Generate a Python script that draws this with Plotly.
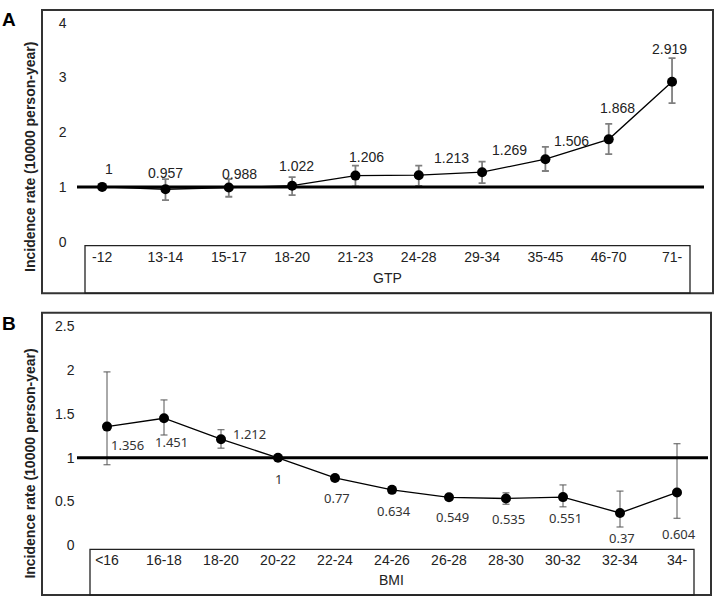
import numpy as np
import plotly.graph_objects as go

# ---- data ----
gtp_groups = ['-12', '13-14', '15-17', '18-20', '21-23', '24-28', '29-34', '35-45', '46-70', '71-']
gtp_rate = [1, 0.957, 0.988, 1.022, 1.206, 1.213, 1.269, 1.506, 1.868, 2.919]
gtp_ci_high = [None, 1.14, 1.14, 1.18, 1.39, 1.39, 1.46, 1.73, 2.15, 3.35]
gtp_ci_low = [None, 0.76, 0.82, 0.85, 1.01, 1.02, 1.07, 1.29, 1.60, 2.53]

bmi_groups = ['<16', '16-18', '18-20', '20-22', '22-24', '24-26', '26-28', '28-30', '30-32', '32-34', '34-']
bmi_rate = [1.356, 1.451, 1.212, 1, 0.77, 0.634, 0.549, 0.535, 0.551, 0.37, 0.604]
bmi_ci_high = [1.98, 1.66, 1.32, None, 0.80, 0.67, 0.58, 0.60, 0.69, 0.62, 1.16]
bmi_ci_low = [0.92, 1.26, 1.11, None, 0.74, 0.60, 0.52, 0.47, 0.44, 0.21, 0.31]

gtp_ticks = [0, 1, 2, 3, 4]
bmi_ticks = [0, 0.5, 1, 1.5, 2, 2.5]

W, H = 720, 605
def px(x): return x / W
def py(y): return 1 - y / H


def err(rate, hi, lo):
    plus = [np.nan if h is None else h - r for r, h in zip(rate, hi)]
    minus = [np.nan if l is None else r - l for r, l in zip(rate, lo)]
    return plus, minus


fig = go.Figure()

# panel A
p, m = err(gtp_rate, gtp_ci_high, gtp_ci_low)
fig.add_trace(go.Scatter(
    x=gtp_groups, y=gtp_rate, mode='lines+markers', xaxis='x', yaxis='y',
    line=dict(color='black', width=1.3), marker=dict(color='black', size=10),
    error_y=dict(type='data', array=p, arrayminus=m, color='#7f7f7f', thickness=1.8, width=3.5),
    cliponaxis=False, showlegend=False))

# panel B
p, m = err(bmi_rate, bmi_ci_high, bmi_ci_low)
fig.add_trace(go.Scatter(
    x=bmi_groups, y=bmi_rate, mode='lines+markers', xaxis='x2', yaxis='y2',
    line=dict(color='black', width=1.3), marker=dict(color='black', size=10),
    error_y=dict(type='data', array=p, arrayminus=m, color='#555555', thickness=1, width=3.5),
    cliponaxis=False, showlegend=False))

# value labels (hand placed like the original); x given as category index
a_dx = [7, 0, 11, 4, 11, 33, 27, 26, 9, -3]
a_dy = [18, 16, 14, 20, 19, 17, 22, 18, 31, 33]
for i, (v, dx, dy) in enumerate(zip(gtp_rate, a_dx, a_dy)):
    fig.add_annotation(x=i, y=v, xref='x', yref='y', text=f'{v:g}', showarrow=False,
                       xanchor='center', yanchor='middle',
                       xshift=dx, yshift=dy, font=dict(family='Liberation Sans, Arial', size=14, color='#222'))

b_dx = [20, 7, 28, 0, 2, 2, 3, 2, 2, 2, 2]
b_dy = [-18, -24, 5, -21, -20, -21, -20, -20, -21, -25, -42]
for i, (v, dx, dy) in enumerate(zip(bmi_rate, b_dx, b_dy)):
    fig.add_annotation(x=i, y=v, xref='x2', yref='y2', text=f'{v:g}', showarrow=False,
                       xanchor='center', yanchor='middle',
                       xshift=dx, yshift=dy, font=dict(family='Noto Sans', size=13, color='#333'))

font = dict(family='Liberation Sans, Arial', size=14, color='#222')
ax_common = dict(showgrid=False, zeroline=False, showline=False, ticks='', tickfont=font, fixedrange=True)

fig.update_layout(
    width=W, height=H, margin=dict(l=0, r=0, t=0, b=0),
    paper_bgcolor='white', plot_bgcolor='white',
    xaxis=dict(domain=[px(70.5), px(703.7)], anchor='y', range=[-0.5, 9.5], type='category',
               ticklabelstandoff=5, **ax_common),
    yaxis=dict(domain=[py(240), py(15)], anchor='x', range=[0, 4], tickvals=gtp_ticks,
               ticklabelstandoff=3, **ax_common),
    xaxis2=dict(domain=[px(78.5), px(705.5)], anchor='y2', range=[-0.5, 10.5], type='category',
                ticklabelstandoff=5, **ax_common),
    yaxis2=dict(domain=[py(552), py(327)], anchor='x2', range=[0, 2.5], tickvals=bmi_ticks,
                ticklabelstandoff=3, **ax_common),
)

# reference line at 1, frames, category boxes
shapes = [
    dict(type='line', xref='paper', yref='y', x0=px(77), x1=px(704), y0=1, y1=1, line=dict(color='black', width=3)),
    dict(type='line', xref='paper', yref='y2', x0=px(77), x1=px(708), y0=1, y1=1, line=dict(color='black', width=3)),
    dict(type='rect', xref='paper', yref='paper', x0=px(42), x1=px(713), y0=py(293), y1=py(2), line=dict(color='#333', width=2)),
    dict(type='rect', xref='paper', yref='paper', x0=px(42), x1=px(711), y0=py(603), y1=py(313), line=dict(color='#333', width=2)),
    dict(type='rect', xref='paper', yref='paper', x0=px(85), x1=px(690), y0=py(293), y1=py(244), line=dict(color='#222', width=1.3)),
    dict(type='rect', xref='paper', yref='paper', x0=px(90), x1=px(694), y0=py(603), y1=py(556), line=dict(color='#222', width=1.3)),
]
fig.update_layout(shapes=shapes)

title_font = dict(family='Liberation Sans, Arial', size=14, color='#222')
for yc, name, xc, ycat in [(153, 'GTP', 387, 277), (468, 'BMI', 392, 588)]:
    fig.add_annotation(x=px(30), y=py(yc), xref='paper', yref='paper', text='<b>Incidence rate (10000 person-year)</b>',
                       textangle=-90, showarrow=False, xanchor='center', yanchor='middle', font=title_font)
    fig.add_annotation(x=px(xc), y=py(ycat), xref='paper', yref='paper', text=name, showarrow=False,
                       xanchor='center', yanchor='middle', font=font)

for letter, yc in [('A', 12), ('B', 324)]:
    fig.add_annotation(x=px(9), y=py(yc), xref='paper', yref='paper', text=f'<b>{letter}</b>', showarrow=False,
                       xanchor='center', yanchor='middle',
                       font=dict(family='Liberation Sans, Arial', size=19, color='black'))

# keep the plot at the page's top-left corner
pin = "document.body.style.margin='0';"
fig.write_html('out.html', config={'displayModeBar': False}, post_script=pin)
